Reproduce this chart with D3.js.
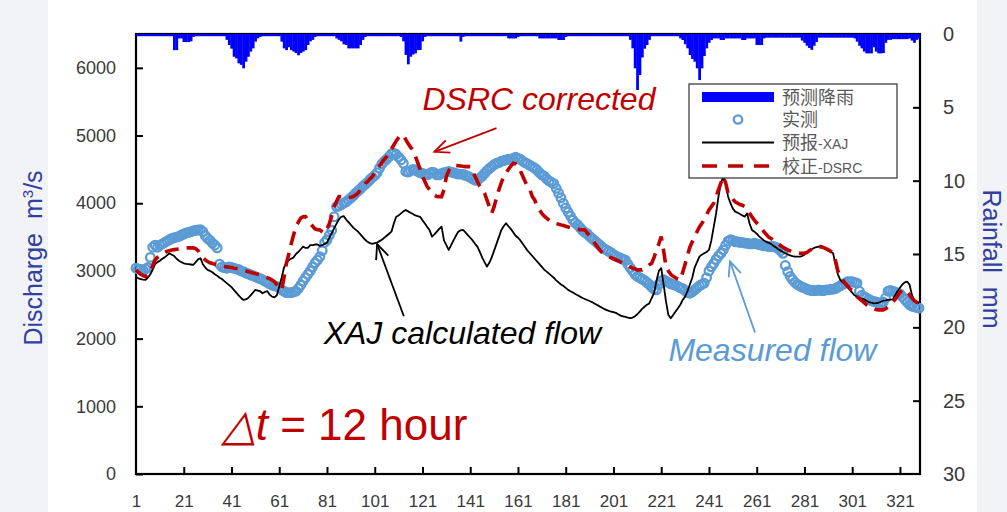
<!DOCTYPE html>
<html>
<head>
<meta charset="utf-8">
<script src="https://cdn.jsdelivr.net/npm/d3@7"></script>
<style>
  html, body { margin: 0; padding: 0; background: #ffffff; }
  svg { display: block; }
  text { font-family: "Liberation Sans", Arial, sans-serif; }
</style>
</head>
<body>
<svg id="chart" width="1007" height="512"></svg>
<script>
// ---- data -------------------------------------------------------------
// time step index (12 h steps)
const periods = d3.range(1, 330);
const xTickLabels = [1, 21, 41, 61, 81, 101, 121, 141, 161, 181, 201, 221, 241, 261, 281, 301, 321];
const dischargeTicks = [0, 1000, 2000, 3000, 4000, 5000, 6000];
const rainTicks = [0, 5, 10, 15, 20, 25, 30];

// forecast rainfall, mm per step
const rainfall = [
  0.15,0.15,0.15,0.15,0.15,0.15,0.15,0.15,0.15,0.15,
  0.15,0.15,0.15,0.15,0.15,0.15,1.1,1.1,0.3,0.3,
  0.55,0.55,0.55,0.5,0.2,0.15,0.15,0.15,0.15,0.15,
  0.15,0.15,0.15,0.15,0.15,0.15,0.15,0.15,0.4,0.75,
  1.0,1.55,1.66,2.0,2.1,2.34,1.89,1.55,1.2,0.98,
  0.52,0.3,0.2,0.15,0.15,0.15,0.15,0.15,0.15,0.15,
  0.15,0.52,0.98,1.1,0.9,1.1,1.2,1.3,1.45,1.3,
  1.2,1.1,0.75,0.5,0.4,0.2,0.15,0.15,0.15,0.15,
  0.15,0.15,0.15,0.15,0.3,0.4,0.5,0.7,0.75,0.98,
  0.98,0.98,0.98,0.98,0.75,0.4,0.2,0.15,0.15,0.15,
  0.15,0.15,0.15,0.15,0.15,0.15,0.15,0.15,0.15,0.15,
  0.15,0.2,0.5,1.43,2.07,1.55,1.4,1.32,1.1,1.09,
  0.5,0.2,0.15,0.15,0.15,0.15,0.15,0.15,0.15,0.15,
  0.15,0.15,0.15,0.15,0.15,0.15,0.52,0.2,0.15,0.15,
  0.15,0.15,0.15,0.15,0.15,0.15,0.15,0.15,0.15,0.15,
  0.15,0.15,0.15,0.15,0.15,0.15,0.3,0.3,0.3,0.3,
  0.2,0.15,0.15,0.15,0.15,0.15,0.15,0.15,0.15,0.3,
  0.3,0.3,0.3,0.3,0.3,0.3,0.3,0.41,0.41,0.41,
  0.2,0.15,0.15,0.15,0.15,0.15,0.15,0.15,0.15,0.15,
  0.15,0.15,0.15,0.15,0.15,0.15,0.15,0.15,0.15,0.15,
  0.15,0.15,0.15,0.15,0.15,0.15,0.15,0.4,0.98,2.34,
  3.82,2.8,1.6,1.0,0.75,0.4,0.15,0.15,0.15,0.15,
  0.15,0.15,0.15,0.15,0.15,0.15,0.15,0.15,0.3,0.41,
  0.7,0.98,1.43,1.7,1.89,2.34,3.14,2.34,1.5,0.98,
  0.6,0.41,0.3,0.3,0.3,0.41,0.41,0.3,0.3,0.3,
  0.3,0.3,0.3,0.3,0.41,0.41,0.3,0.3,0.3,0.3,
  0.75,0.75,0.75,0.3,0.25,0.25,0.25,0.25,0.25,0.25,
  0.25,0.25,0.25,0.25,0.25,0.25,0.25,0.25,0.25,0.45,
  0.6,0.8,0.95,1.08,0.8,0.55,0.25,0.25,0.25,0.25,
  0.25,0.25,0.25,0.25,0.25,0.25,0.25,0.25,0.25,0.25,
  0.25,0.3,0.52,0.8,0.98,1.2,1.32,1.32,1.32,0.9,
  1.2,1.32,1.32,1.3,0.6,0.4,0.4,0.35,0.35,0.35,
  0.35,0.35,0.35,0.35,0.3,0.45,0.6,0.4,0.3
];

// observed discharge, m3/s
const measured = [
  3040,3030,3020,3010,3030,3050,3200,3350,3380,3350,
  3380,3400,3420,3440,3460,3480,3490,3500,3510,3530,
  3545,3560,3570,3580,3590,3600,3605,3610,3580,3520,
  3480,3450,3410,3380,3340,3100,3060,3050,3040,3060,
  3050,3040,3030,3020,3000,2990,2970,2960,2940,2930,
  2916,2900,2885,2870,2850,2830,2810,2790,2780,2770,
  2750,2720,2700,2680,2680,2680,2690,2700,2740,2790,
  2850,2900,2950,3000,3060,3120,3160,3210,3300,3420,
  3460,3530,3600,3800,3950,3960,3980,4000,4020,4050,
  4080,4110,4150,4180,4210,4250,4280,4310,4350,4380,
  4410,4450,4520,4580,4620,4650,4690,4730,4740,4720,
  4680,4640,4590,4470,4460,4480,4500,4490,4470,4450,
  4440,4430,4420,4440,4460,4450,4420,4420,4440,4450,
  4460,4470,4460,4450,4440,4430,4430,4430,4410,4400,
  4380,4360,4340,4340,4370,4400,4440,4480,4510,4540,
  4570,4590,4600,4620,4630,4640,4650,4650,4660,4680,
  4660,4650,4620,4600,4580,4560,4540,4520,4490,4450,
  4420,4400,4360,4330,4310,4290,4220,4150,4080,4000,
  3930,3870,3810,3750,3710,3680,3640,3600,3570,3550,
  3510,3480,3450,3420,3390,3360,3330,3310,3290,3270,
  3240,3220,3200,3190,3170,3160,3100,3050,3000,2950,
  2920,2900,2880,2860,2830,2800,2760,2730,2720,2800,
  2850,2870,2850,2830,2810,2800,2790,2770,2750,2740,
  2710,2680,2670,2690,2720,2750,2780,2800,2820,2900,
  3000,3060,3110,3170,3220,3260,3310,3380,3440,3460,
  3450,3430,3430,3420,3420,3410,3410,3400,3400,3410,
  3400,3390,3380,3370,3370,3360,3360,3360,3350,3330,
  3300,3260,3080,2990,2920,2870,2830,2800,2780,2760,
  2750,2730,2720,2710,2710,2710,2720,2710,2710,2720,
  2720,2730,2730,2740,2760,2780,2800,2820,2840,2840,
  2840,2830,2820,2700,2640,2620,2600,2580,2560,2550,
  2540,2530,2520,2540,2600,2700,2710,2700,2690,2670,
  2660,2620,2580,2540,2500,2480,2470,2460,2450
];

// XAJ model forecast, m3/s
const xajFlow = [
  2916,2890,2880,2870,2867,2900,2950,3020,3100,3130,
  3150,3180,3200,3230,3261,3240,3220,3180,3150,3130,
  3113,3105,3100,3095,3090,3130,3170,3188,3100,3050,
  3015,3000,2980,2950,2930,2900,2880,2850,2820,2790,
  2760,2720,2680,2640,2600,2571,2580,2600,2640,2680,
  2720,2710,2700,2670,2690,2700,2650,2620,2610,2640,
  2768,2900,3050,3120,3160,3180,3200,3250,3280,3320,
  3360,3340,3340,3380,3380,3390,3390,3370,3380,3400,
  3420,3490,3560,3630,3700,3760,3800,3810,3760,3720,
  3680,3640,3610,3580,3540,3500,3460,3430,3410,3400,
  3410,3420,3440,3460,3490,3520,3550,3580,3700,3800,
  3820,3850,3880,3900,3880,3860,3840,3820,3810,3800,
  3750,3700,3650,3600,3507,3540,3580,3620,3655,3450,
  3380,3310,3380,3450,3520,3580,3600,3606,3570,3530,
  3490,3450,3400,3359,3280,3200,3130,3064,3120,3200,
  3300,3400,3500,3600,3660,3705,3660,3620,3570,3520,
  3490,3450,3400,3350,3300,3261,3220,3180,3140,3100,
  3060,3020,2990,2960,2930,2900,2860,2830,2800,2780,
  2750,2720,2700,2680,2660,2640,2620,2600,2585,2570,
  2555,2540,2520,2500,2480,2460,2440,2424,2410,2400,
  2390,2380,2360,2340,2330,2320,2310,2301,2310,2330,
  2360,2400,2440,2470,2500,2520,2600,2670,2850,3000,
  3040,2800,2550,2350,2301,2350,2400,2450,2500,2571,
  2620,2700,2800,2900,3050,3130,3211,3240,3260,3280,
  3310,3450,3650,3852,4100,4300,4394,4300,4100,4000,
  3920,3876,3860,3840,3820,3802,3850,3700,3606,3580,
  3550,3510,3480,3450,3430,3415,3400,3370,3350,3320,
  3300,3280,3261,3245,3230,3220,3211,3211,3211,3220,
  3240,3270,3300,3320,3340,3350,3359,3350,3340,3320,
  3300,3280,3261,3100,2950,2867,2830,2800,2760,2720,
  2680,2640,2620,2600,2590,2580,2560,2540,2530,2522,
  2525,2530,2545,2560,2565,2571,2575,2580,2640,2700,
  2750,2800,2830,2842,2800,2650,2560,2540,2522
];

// DSRC corrected forecast, m3/s
const dsrcFlow = [
  3015,2980,2950,2930,2916,2950,3000,3080,3163,3200,
  3230,3250,3270,3290,3300,3310,3315,3320,3325,3330,
  3335,3338,3340,3340,3340,3330,3300,3250,3200,3163,
  3140,3120,3110,3100,3090,3080,3070,3064,3060,3055,
  3050,3040,3035,3030,3020,3010,3000,2990,2980,2970,
  2960,2950,2940,2930,2915,2900,2885,2867,2840,2800,
  2760,2719,2900,3113,3250,3400,3530,3655,3720,3780,
  3800,3802,3750,3700,3660,3620,3610,3606,3580,3557,
  3620,3700,3820,3950,4030,4098,4098,4098,4090,4080,
  4090,4098,4120,4150,4200,4250,4290,4320,4360,4394,
  4450,4500,4550,4600,4650,4689,4740,4800,4860,4920,
  4970,5010,5000,4940,4880,4830,4788,4700,4600,4500,
  4400,4320,4246,4200,4150,4120,4100,4098,4098,4200,
  4394,4480,4541,4550,4560,4555,4550,4545,4541,4541,
  4541,4470,4400,4320,4250,4200,4148,4050,3950,3852,
  3950,4080,4200,4300,4394,4450,4500,4550,4591,4580,
  4550,4480,4400,4320,4250,4200,4100,4049,3950,3900,
  3850,3810,3780,3750,3720,3705,3700,3690,3680,3670,
  3660,3650,3640,3630,3620,3615,3610,3608,3606,3560,
  3520,3470,3420,3370,3320,3280,3250,3230,3211,3195,
  3180,3165,3150,3130,3113,3095,3080,3060,3040,3030,
  3015,3015,3015,3040,3060,3090,3113,3200,3300,3400,
  3507,3300,3064,3000,2950,2920,2900,2880,2867,2980,
  3100,3230,3350,3430,3507,3580,3650,3700,3754,3830,
  3900,3950,4000,4098,4200,4300,4394,4300,4150,4098,
  4060,4020,4000,3980,3970,3950,3900,3850,3800,3750,
  3710,3680,3630,3580,3540,3500,3480,3458,3430,3400,
  3375,3350,3330,3310,3295,3280,3270,3261,3261,3261,
  3265,3270,3300,3320,3340,3350,3355,3359,3345,3330,
  3310,3290,3261,3150,3000,2916,2870,2820,2780,2740,
  2710,2680,2620,2590,2560,2530,2500,2480,2460,2445,
  2430,2425,2424,2424,2440,2470,2500,2540,2580,2630,
  2680,2719,2710,2700,2650,2600,2560,2540,2522
];

const legendLabels = [
  { key: "rain", cjk: "预测降雨", latin: "" },
  { key: "obs",  cjk: "实测",     latin: "" },
  { key: "xaj",  cjk: "预报",     latin: "-XAJ" },
  { key: "dsrc", cjk: "校正",     latin: "-DSRC" }
];

// ---- layout -----------------------------------------------------------
const W = 1007, H = 512;
const plot = { left: 136, right: 920, top: 34, bottom: 474 };
const colors = {
  rain: "#0000ff", obs: "#5b9bd5", xaj: "#000000", dsrc: "#c00000",
  axisTitle: "#3040a0", tick: "#3a3a3a", legendText: "#595959", side: "#f1f3f7"
};

const svg = d3.select("#chart");

// page background: pale side bands, white centre
svg.append("rect").attr("x", 0).attr("y", 0).attr("width", W).attr("height", H).attr("fill", "#ffffff");
svg.append("rect").attr("x", 0).attr("y", 0).attr("width", 48).attr("height", H).attr("fill", colors.side);
svg.append("rect").attr("x", 977).attr("y", 0).attr("width", W - 977).attr("height", H).attr("fill", colors.side);

// ---- scales -----------------------------------------------------------
const x = d3.scaleLinear().domain([1, 329.4]).range([plot.left, plot.right]);
const yQ = d3.scaleLinear().domain([0, 6500]).range([plot.bottom, plot.top]);
const yP = d3.scaleLinear().domain([0, 30]).range([plot.top, plot.bottom]);

svg.append("clipPath").attr("id", "plotClip")
  .append("rect").attr("x", plot.left).attr("y", plot.top)
  .attr("width", plot.right - plot.left).attr("height", plot.bottom - plot.top);

// ---- axes -------------------------------------------------------------
const axisLeft = d3.axisLeft(yQ).tickValues(dischargeTicks).tickFormat(d3.format("d"))
  .tickSize(-7).tickPadding(20);
const gL = svg.append("g").attr("transform", `translate(${plot.left},0)`).call(axisLeft);

const axisRight = d3.axisRight(yP).tickValues(rainTicks).tickFormat(d3.format("d"))
  .tickSize(-7).tickPadding(23);
const gR = svg.append("g").attr("transform", `translate(${plot.right},0)`).call(axisRight);
gR.selectAll(".tick line").filter(d => d === 0 || d === 30).remove();

const axisBottom = d3.axisBottom(x).tickValues(xTickLabels).tickFormat(d3.format("d"))
  .tickSize(-7).tickPadding(21);
const gB = svg.append("g").attr("transform", `translate(0,${plot.bottom})`).call(axisBottom);
gB.selectAll(".tick line").filter(d => d === 1).remove();

[gL, gR, gB].forEach(g => {
  g.select(".domain").remove();
  g.selectAll(".tick line").attr("stroke", "#000").attr("stroke-width", 2);
  g.selectAll(".tick text").attr("fill", colors.tick)
    .style("font-family", '"Liberation Sans", Arial, sans-serif');
});
gL.selectAll(".tick text").style("font-size", "18px");
gR.selectAll(".tick text").style("font-size", "20px");
gB.selectAll(".tick text").style("font-size", "17px");

// plot frame
svg.append("rect")
  .attr("x", plot.left).attr("y", plot.top)
  .attr("width", plot.right - plot.left).attr("height", plot.bottom - plot.top)
  .attr("fill", "none").attr("stroke", "#000").attr("stroke-width", 2.2);

// ---- rainfall bars, hanging from the top --------------------------------
const bw = x(2) - x(1);
svg.append("g").attr("clip-path", "url(#plotClip)")
  .selectAll("rect").data(periods).join("rect")
  .attr("x", d => x(d) - bw / 2)
  .attr("y", yP(0))
  .attr("width", bw + 0.4)
  .attr("height", d => yP(rainfall[d - 1]) - yP(0))
  .attr("fill", colors.rain);

// ---- discharge series -------------------------------------------------
svg.append("g").selectAll("circle").data(periods).join("circle")
  .attr("cx", d => x(d))
  .attr("cy", d => yQ(measured[d - 1]))
  .attr("r", 4.3)
  .attr("fill", "none")
  .attr("stroke", colors.obs)
  .attr("stroke-width", 2.3);

const line = series => d3.line().x(d => x(d)).y(d => yQ(series[d - 1]));

svg.append("path").datum(periods)
  .attr("d", line(xajFlow))
  .attr("fill", "none").attr("stroke", colors.xaj).attr("stroke-width", 1.8)
  .attr("stroke-linejoin", "round");

svg.append("path").datum(periods)
  .attr("d", line(dsrcFlow))
  .attr("fill", "none").attr("stroke", colors.dsrc).attr("stroke-width", 3.6)
  .attr("stroke-dasharray", "14,8");

// ---- axis titles --------------------------------------------------------
const tL = svg.append("text")
  .attr("transform", "translate(42,258) rotate(-90)")
  .attr("text-anchor", "middle").attr("fill", colors.axisTitle)
  .style("font-size", "25px");
tL.append("tspan").text("Discharge");
tL.append("tspan").attr("dx", 14).text("m");
tL.append("tspan").attr("dy", -9).style("font-size", "15px").text("3");
tL.append("tspan").attr("dy", 9).text("/s");

const tR = svg.append("text")
  .attr("transform", "translate(983,259) rotate(90)")
  .attr("text-anchor", "middle").attr("fill", colors.axisTitle)
  .style("font-size", "25px");
tR.append("tspan").text("Rainfall");
tR.append("tspan").attr("dx", 14).text("mm");

// ---- legend -------------------------------------------------------------
const lg = { x0: 689, y0: 84, x1: 897, y1: 178, symL: 702, symR: 774, textX: 782, rows: [97, 119.5, 142.5, 166] };
svg.append("rect").attr("x", lg.x0).attr("y", lg.y0)
  .attr("width", lg.x1 - lg.x0).attr("height", lg.y1 - lg.y0)
  .attr("fill", "#ffffff").attr("stroke", "#404040").attr("stroke-width", 1.3);

const lgRows = svg.append("g").selectAll("g").data(legendLabels).join("g")
  .attr("transform", (d, i) => `translate(0,${lg.rows[i]})`);

lgRows.each(function (d) {
  const g = d3.select(this);
  if (d.key === "rain") {
    g.append("rect").attr("x", lg.symL).attr("y", -5).attr("width", lg.symR - lg.symL).attr("height", 10).attr("fill", colors.rain);
  } else if (d.key === "obs") {
    g.append("circle").attr("cx", (lg.symL + lg.symR) / 2).attr("cy", 0).attr("r", 4.2)
      .attr("fill", "none").attr("stroke", colors.obs).attr("stroke-width", 2.3);
  } else if (d.key === "xaj") {
    g.append("line").attr("x1", lg.symL).attr("x2", lg.symR).attr("stroke", colors.xaj).attr("stroke-width", 1.8);
  } else {
    g.append("line").attr("x1", lg.symL).attr("x2", lg.symR).attr("stroke", colors.dsrc)
      .attr("stroke-width", 3.6).attr("stroke-dasharray", "15,11");
  }
  const t = g.append("text").attr("x", lg.textX).attr("y", 6.5).attr("fill", colors.legendText);
  t.append("tspan").style("font-family", '"Noto Sans CJK SC", sans-serif').style("font-size", "18px").text(d.cjk);
  if (d.latin) t.append("tspan").style("font-size", "14px").text(d.latin);
});

// ---- annotations --------------------------------------------------------
function arrow(from, to, color) {
  const x0 = x(from[0]), y0 = yQ(from[1]), x1 = x(to[0]), y1 = yQ(to[1]);
  const a = Math.atan2(y1 - y0, x1 - x0), len = 16, spread = 0.42;
  const g = svg.append("g").attr("stroke", color).attr("stroke-width", 1.8).attr("fill", "none");
  g.append("line").attr("x1", x0).attr("y1", y0).attr("x2", x1).attr("y2", y1);
  g.append("path").attr("d",
    `M${x1 - len * Math.cos(a - spread)},${y1 - len * Math.sin(a - spread)}` +
    `L${x1},${y1}` +
    `L${x1 - len * Math.cos(a + spread)},${y1 - len * Math.sin(a + spread)}`);
}

// labels placed in data coordinates (step index, discharge)
svg.append("text").attr("x", x(121)).attr("y", yQ(5380))
  .attr("fill", colors.dsrc).style("font-size", "32px").style("font-style", "italic")
  .text("DSRC corrected");
arrow([152, 5110], [126, 4760], colors.dsrc);

svg.append("text").attr("x", x(79.6)).attr("y", yQ(1920))
  .attr("fill", "#000").style("font-size", "32px").style("font-style", "italic")
  .text("XAJ calculated flow");
arrow([113.2, 2330], [102, 3395], "#000");

svg.append("text").attr("x", x(224)).attr("y", yQ(1670))
  .attr("fill", colors.obs).style("font-size", "32px").style("font-style", "italic")
  .text("Measured flow");
arrow([260.3, 2090], [249.8, 3140], colors.obs);

const dt = svg.append("text").attr("x", x(36.9)).attr("y", yQ(500))
  .attr("fill", colors.dsrc).style("font-size", "44px");
dt.append("tspan").style("font-style", "italic").text("\u25B3t");
dt.append("tspan").text(" = 12 hour");
</script>
</body>
</html>
